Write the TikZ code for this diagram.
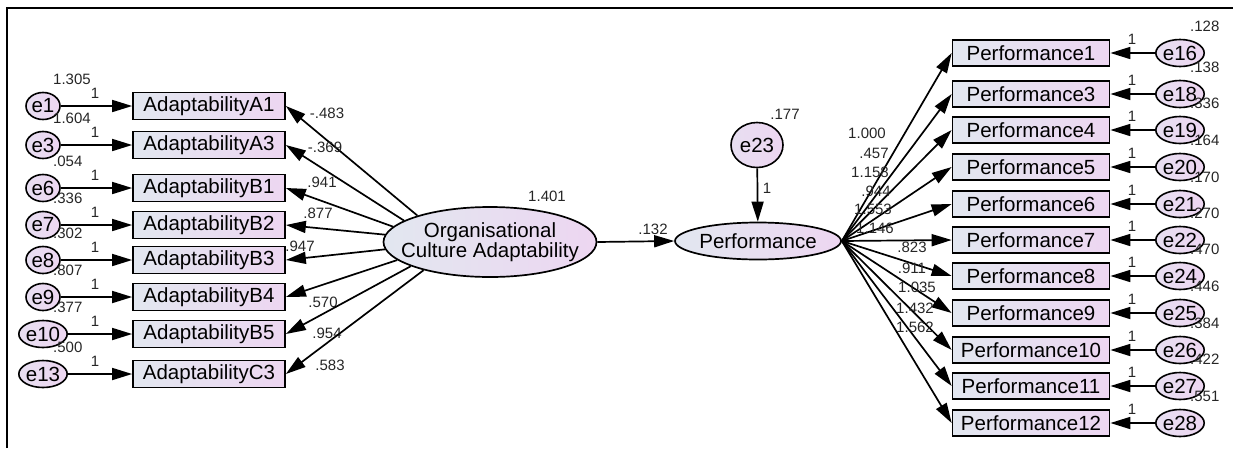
\documentclass[tikz,border=0pt]{standalone}
\usepackage{fontspec}
\setmainfont{Liberation Sans}
\usetikzlibrary{arrows.meta,shapes.geometric}
\definecolor{shadeL}{RGB}{226,231,240}
\definecolor{shadeR}{RGB}{237,214,241}

\begin{document}
\begin{tikzpicture}[x=1pt,y=-1pt,
          every node/.style={font=\fontsize{20.5}{20.5}\selectfont},
          obs/.style={draw,line width=1.7pt,minimum width=152pt,minimum height=27pt,
                      inner sep=0pt,left color=shadeL,right color=shadeR},
          err/.style={draw,ellipse,line width=1.6pt,minimum width=34pt,minimum height=27pt,
                      inner sep=0pt,left color=shadeL!50!shadeR,right color=shadeR,
                      font=\fontsize{20.5}{20.5}\selectfont},
          lat/.style={draw,ellipse,line width=1.7pt,inner sep=0pt,align=center,
                      left color=shadeL,right color=shadeR},
          arr/.style={-{Triangle[length=20pt,width=12pt]},line width=1.7pt},
          num/.style={font=\fontsize{15}{15}\selectfont,text=black!85,inner sep=0pt},
      ]
        \useasboundingbox (0,0) rectangle (1233,448);
        \draw[line width=1.7pt] (7,448) -- (7,8) -- (1233,8);

        % latent variables
        \node[lat,inner xsep=-14pt,minimum width=213pt,minimum height=70pt] (org) at (490,242)
          {Organisational\\Culture Adaptability};
        \node[lat,minimum width=153pt,minimum height=37pt] (perf) at (758,241) {Performance};
        \node[err,minimum width=52pt,minimum height=45pt] (e23) at (757,145) {e23};
        \draw[arr] (org.east) -- (perf.west);
        \draw[arr] (e23) -- (perf);
        \node[num] at (547,196) {1.401};
        \node[num] at (653,229) {.132};
        \node[num] at (785,114) {.177};
        \node[num] at (767,188) {1};

        % adaptability indicators
        \foreach \e/\o/\y/\v/\ang/\lx/\ly/\w in {
            1/A1/106/1.305/160/327/113/-.483, 3/A3/145/1.604/166/325/147/-.369,
            6/B1/188/.054/171/322/182/.941, 7/B2/225/.336/176/318/213/.877,
            8/B3/260/.302/184/300/246/.947, 9/B4/297/.807/191/323/302/.570,
            10/B5/334/.377/197/327/333/.954, 13/C3/374/.500/203/330/365/.583} {
          \node[err] (e\e) at (43,\y) {e\e};
          \node[obs] (a\o) at (209,\y) {Adaptability\o};
          \draw[arr] (e\e) -- (a\o);
          \draw[arr] (org.\ang) -- (a\o.east);
          \node[num] at (95,\y-13) {1};
          \node[num,anchor=west] at (53,\y-27) {\v};
          \node[num] at (\lx,\ly) {\w};
        }

        % performance indicators
        \foreach \i/\e/\y/\v/\lx/\ly/\w in {
            1/16/53/.128/867/133/1.000, 3/18/94/.138/874/153/.457,
            4/19/130/.336/870/172/1.158, 5/20/167/.164/876/191/.944,
            6/21/204/.170/873/209/1.553, 7/22/240/.270/875/228/1.146,
            8/24/276/.470/912/247/.823, 9/25/313/.446/912/268/.911,
            10/26/350/.384/917/287/1.035, 11/27/386/.422/915/308/1.432,
            12/28/423/.551/915/327/1.562} {
          \node[obs,minimum width=157pt,minimum height=26pt] (p\i) at (1031,\y) {Performance\i};
          \node[err] (e\e) at (1180,\y) {e\e};
          \draw[arr] (e\e) -- (p\i);
          \draw[arr] (perf.east) -- (p\i.west);
          \node[num] at (1132,\y-14) {1};
          \node[num,anchor=west] at (1190,\y-27) {\v};
          \node[num] at (\lx,\ly) {\w};
        }
      \end{tikzpicture}
\end{document}
